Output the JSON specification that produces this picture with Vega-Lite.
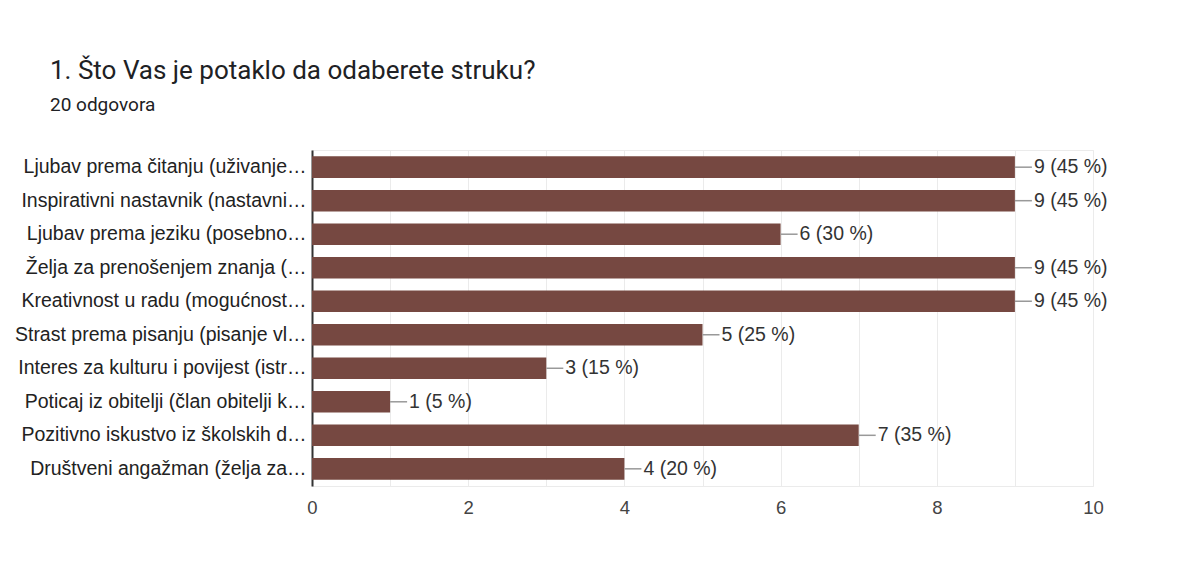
{
  "$schema": "https://vega.github.io/schema/vega-lite/v6.json",
  "width": 781,
  "height": 336,
  "autosize": {"type": "none"},
  "padding": {"left": 312, "top": 150, "right": 110, "bottom": 91},
  "background": "white",
  "title": {
    "text": "1. Što Vas je potaklo da odaberete struku?",
    "subtitle": "20 odgovora",
    "anchor": "start",
    "frame": "group",
    "dx": -262,
    "offset": 35,
    "font": "Roboto",
    "fontSize": 26,
    "fontWeight": "normal",
    "color": "#202124",
    "subtitleFont": "Roboto",
    "subtitleFontSize": 19,
    "subtitleColor": "#202124",
    "subtitlePadding": 12
  },
  "data": {
    "values": [
      {"odgovor": "Ljubav prema čitanju (uživanje…", "broj": 9, "oznaka": "9 (45 %)"},
      {"odgovor": "Inspirativni nastavnik (nastavni…", "broj": 9, "oznaka": "9 (45 %)"},
      {"odgovor": "Ljubav prema jeziku (posebno…", "broj": 6, "oznaka": "6 (30 %)"},
      {"odgovor": "Želja za prenošenjem znanja (…", "broj": 9, "oznaka": "9 (45 %)"},
      {"odgovor": "Kreativnost u radu (mogućnost…", "broj": 9, "oznaka": "9 (45 %)"},
      {"odgovor": "Strast prema pisanju (pisanje vl…", "broj": 5, "oznaka": "5 (25 %)"},
      {"odgovor": "Interes za kulturu i povijest (istr…", "broj": 3, "oznaka": "3 (15 %)"},
      {"odgovor": "Poticaj iz obitelji (član obitelji k…", "broj": 1, "oznaka": "1 (5 %)"},
      {"odgovor": "Pozitivno iskustvo iz školskih d…", "broj": 7, "oznaka": "7 (35 %)"},
      {"odgovor": "Društveni angažman (želja za…", "broj": 4, "oznaka": "4 (20 %)"}
    ]
  },
  "encoding": {
    "y": {
      "field": "odgovor",
      "type": "nominal",
      "sort": null,
      "title": null,
      "scale": {"paddingInner": 0.355, "paddingOuter": 0.19},
      "axis": {
        "ticks": false,
        "grid": false,
        "domain": true,
        "domainColor": "#333333",
        "domainWidth": 2,
        "labelPadding": 6,
        "labelLimit": 400,
        "labelFont": "Liberation Sans",
        "labelFontSize": 19.5,
        "labelColor": "#222222"
      }
    },
    "x": {
      "field": "broj",
      "type": "quantitative",
      "title": null,
      "scale": {"domain": [0, 10], "nice": false},
      "axis": {
        "values": [0, 1, 2, 3, 4, 5, 6, 7, 8, 9, 10],
        "labelExpr": "datum.value % 2 == 0 ? datum.label : ''",
        "ticks": false,
        "domain": false,
        "grid": true,
        "gridColor": "#ebebeb",
        "labelPadding": 12,
        "labelFont": "Liberation Sans",
        "labelFontSize": 18.5,
        "labelColor": "#444444",
        "labelFlush": false
      }
    }
  },
  "layer": [
    {"mark": {"type": "bar", "color": "#764841"}},
    {
      "mark": {"type": "rule", "color": "#999999", "strokeWidth": 1.5, "x2Offset": 17},
      "encoding": {"x2": {"field": "broj"}}
    },
    {
      "mark": {"type": "text", "align": "left", "baseline": "middle", "dx": 19, "font": "Liberation Sans", "fontSize": 19.5, "color": "#333333"},
      "encoding": {"text": {"field": "oznaka"}}
    }
  ],
  "config": {
    "view": {"stroke": "#ebebeb"}
  }
}
